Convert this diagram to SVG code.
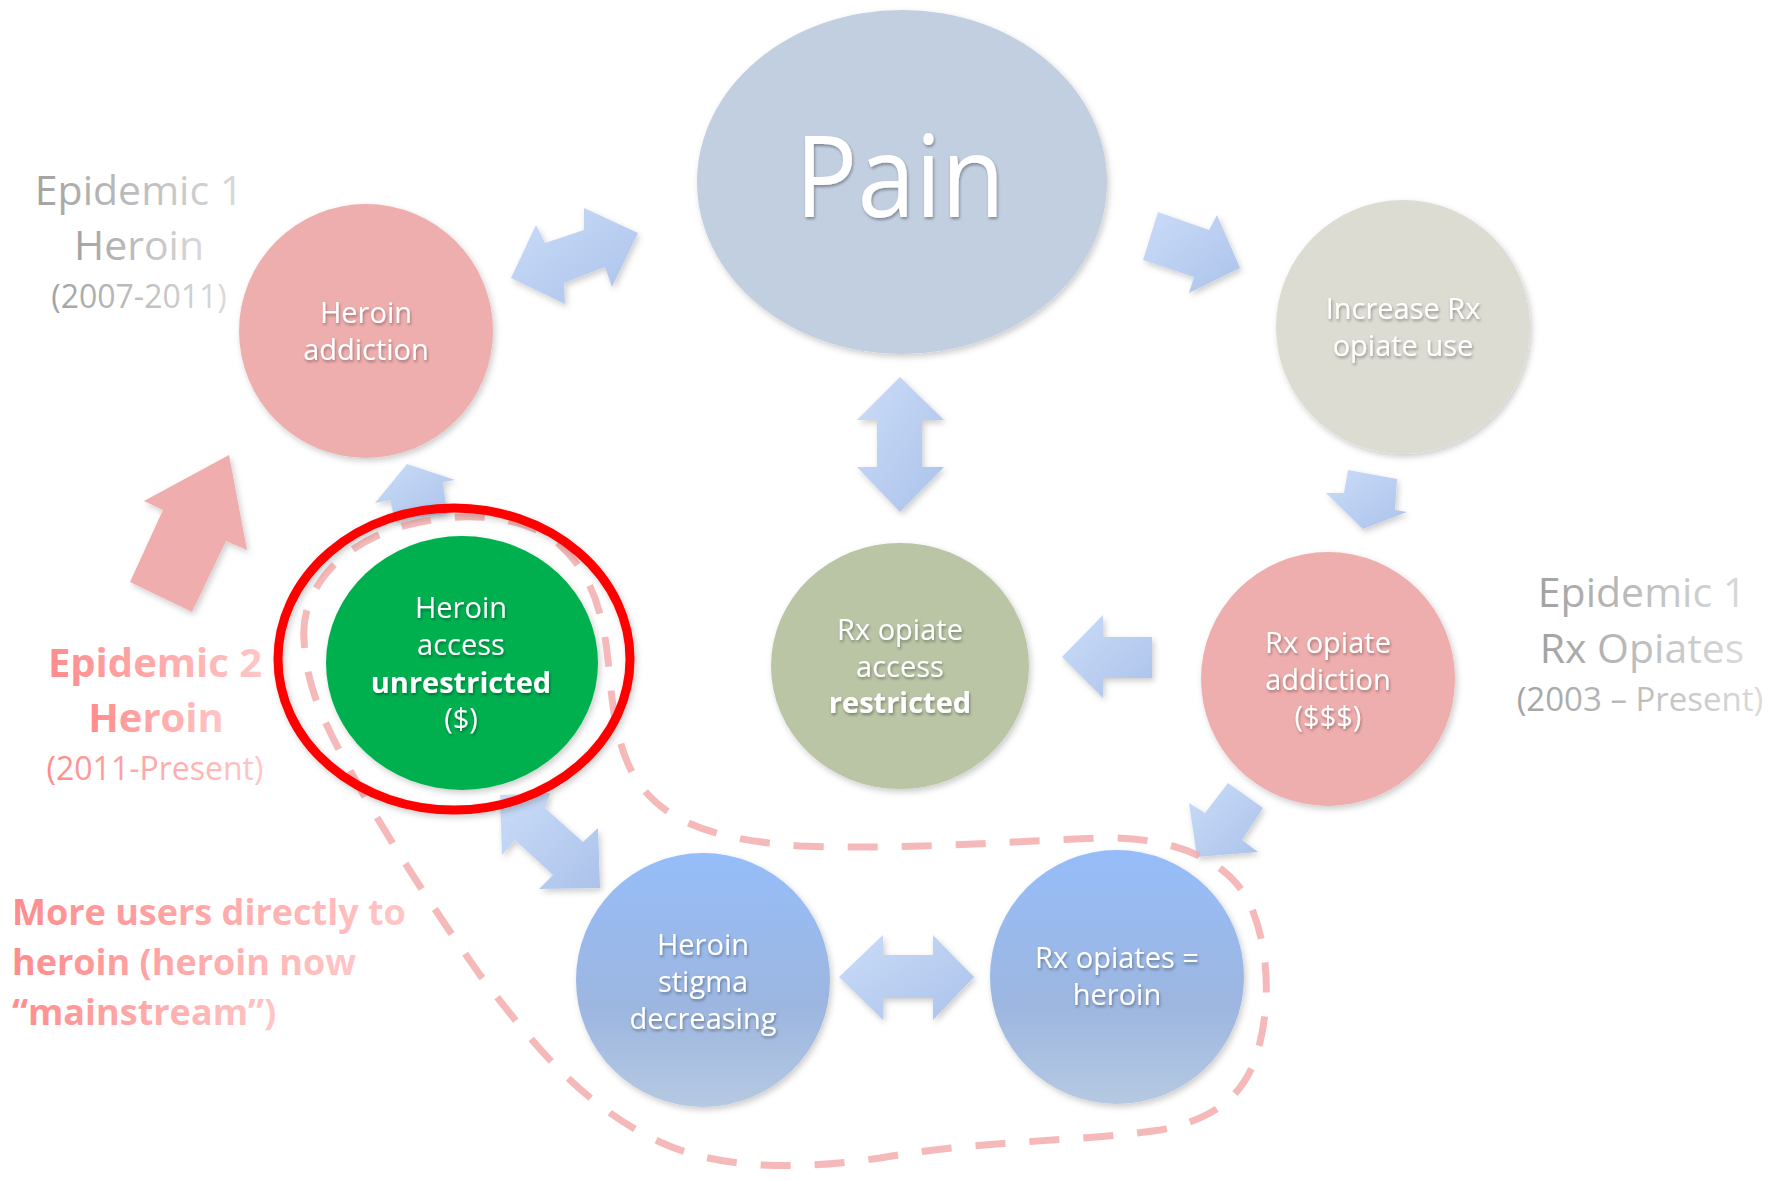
<svg xmlns="http://www.w3.org/2000/svg" width="1785" height="1181" viewBox="0 0 1785 1181">
<style>
.lbl{font-family:"Open Sans","Liberation Sans",sans-serif;font-size:29px;fill:#ffffff;text-anchor:middle;filter:url(#tsh)}
.b{font-weight:bold}
.gray{font-family:"Open Sans","Liberation Sans",sans-serif;fill:url(#grayGrad);text-anchor:middle}
.pink{font-family:"Open Sans","Liberation Sans",sans-serif;fill:url(#pinkGrad)}
.arrow{fill:url(#arrowGrad);filter:url(#sh)}
.node{filter:url(#sh)}
</style>
<defs>
<filter id="sh" x="-20%" y="-20%" width="140%" height="140%"><feDropShadow dx="2" dy="3" stdDeviation="3" flood-color="#000" flood-opacity="0.2"/></filter>
<filter id="tsh" x="-10%" y="-20%" width="120%" height="150%"><feDropShadow dx="1" dy="2" stdDeviation="1.5" flood-color="#000" flood-opacity="0.35"/></filter>
<linearGradient id="arrowGrad" x1="0" y1="0" x2="1" y2="1"><stop offset="0" stop-color="#cadcf8"/><stop offset="1" stop-color="#abc2ea"/></linearGradient>
<linearGradient id="blueGrad" x1="0" y1="0" x2="0" y2="1"><stop offset="0" stop-color="#96bdf9"/><stop offset="0.6" stop-color="#9cb6e0"/><stop offset="1" stop-color="#b6c9e2"/></linearGradient>
<linearGradient id="grayGrad" x1="0" y1="0" x2="1" y2="0"><stop offset="0" stop-color="#a2a2a2"/><stop offset="1" stop-color="#dadada"/></linearGradient>
<linearGradient id="pinkGrad" x1="0" y1="0" x2="1" y2="0"><stop offset="0" stop-color="#ff8c8c"/><stop offset="1" stop-color="#ffc6c6"/></linearGradient>
</defs>
<rect width="1785" height="1181" fill="#ffffff"/>

<g id="connectors">
<polygon class="arrow" points="511,278 536,225 545,243 584,230 584,208 638,233 612,287 605,267 564,283 565,304"/>
<polygon class="arrow" points="1158,212 1209,230 1217,215 1240,268 1189,293 1194,277 1143,260"/>
<polygon class="arrow" points="1348,470 1397,479 1395,510 1407,512 1363,529 1326,493 1344,493"/>
<polygon class="arrow" points="900,377 944,420 922,420 922,467 944,467 900,512 857,467 877,467 877,420 857,420"/>
<polygon class="arrow" points="1062,657 1103,615 1103,637 1152,637 1152,678 1103,678 1103,698"/>
<polygon class="arrow" points="1228,783 1263,808 1242,840 1258,852 1197,857 1189,803 1205,813"/>
<polygon class="arrow" points="839,977 883,935 883,955 933,955 933,935 974,977 933,1020 933,998 883,998 883,1020"/>
<polygon class="arrow" points="500,795 550,793 545,808 583,842 598,828 600,888 539,889 553,875 515,840 502,855"/>
<polygon class="arrow" points="407,464 455,480 443,482 447,514 395,520 390,500 375,503"/>
<polygon fill="#efadad" filter="url(#sh)" points="229,455 247,550 226,541 192,612 130,582 163,510 144,501"/>
</g>

<g id="node-pain" class="node">
<ellipse cx="902" cy="182" rx="205" ry="172" fill="#c2cfe0"/>
<text class="lbl" x="900" y="217" textLength="210" lengthAdjust="spacingAndGlyphs" style="font-size:114px">Pain</text>
</g>
<g id="node-heroin-addiction" class="node">
<circle cx="366" cy="331" r="127" fill="#efaeae"/>
<text class="lbl" x="366" y="323">Heroin</text>
<text class="lbl" x="366" y="360">addiction</text>
</g>
<g id="node-increase-rx" class="node">
<circle cx="1403" cy="327" r="127" fill="#dddcd3"/>
<text class="lbl" x="1403" y="319">Increase Rx</text>
<text class="lbl" x="1403" y="356">opiate use</text>
</g>
<g id="node-rx-addiction" class="node">
<circle cx="1328" cy="679" r="127" fill="#efaeae"/>
<text class="lbl" x="1328" y="653">Rx opiate</text>
<text class="lbl" x="1328" y="690">addiction</text>
<text class="lbl" x="1328" y="727">($$$)</text>
</g>
<g id="node-rx-access" class="node">
<ellipse cx="900" cy="666" rx="129" ry="123" fill="#bac5a6"/>
<text class="lbl" x="900" y="640">Rx opiate</text>
<text class="lbl" x="900" y="677">access</text>
<text class="lbl b" x="900" y="713">restricted</text>
</g>
<g id="node-heroin-access" class="node">
<ellipse cx="462" cy="663" rx="136" ry="127" fill="#00b050"/>
<text class="lbl" x="461" y="618">Heroin</text>
<text class="lbl" x="461" y="655">access</text>
<text class="lbl b" x="461" y="693">unrestricted</text>
<text class="lbl" x="461" y="729">($)</text>
</g>
<g id="node-stigma" class="node">
<circle cx="703" cy="980" r="127" fill="url(#blueGrad)"/>
<text class="lbl" x="703" y="955">Heroin</text>
<text class="lbl" x="703" y="992">stigma</text>
<text class="lbl" x="703" y="1029">decreasing</text>
</g>
<g id="node-rx-equals-heroin" class="node">
<circle cx="1117" cy="977" r="127" fill="url(#blueGrad)"/>
<text class="lbl" x="1117" y="968">Rx opiates =</text>
<text class="lbl" x="1117" y="1005">heroin</text>
</g>

<g id="epidemic2-boundary">
<path d="M304,640 C300,590 340,545 400,527 C450,512 520,510 560,545 C590,572 603,610 608,660 C612,700 615,750 640,785 C670,825 720,840 800,846 C900,850 1000,842 1100,838 C1170,836 1225,858 1248,900 C1270,945 1272,1010 1255,1060 C1240,1100 1210,1120 1160,1130 C1080,1142 980,1140 880,1158 C800,1170 720,1170 660,1142 C580,1105 530,1040 480,975 C420,890 350,780 320,710 C308,680 305,660 304,640 Z" fill="none" stroke="#f2a8a8" stroke-opacity="0.8" stroke-width="7" stroke-dasharray="30 24"/>
</g>
<g id="highlight">
<ellipse cx="454" cy="659" rx="176" ry="151" fill="none" stroke="#ff0000" stroke-width="9" filter="url(#sh)"/>
</g>

<g id="label-epidemic1-heroin">
<text class="gray" x="139" y="205" font-size="41">Epidemic 1</text>
<text class="gray" x="139" y="260" font-size="41">Heroin</text>
<text class="gray" x="139" y="308" font-size="32">(2007-2011)</text>
</g>
<g id="label-epidemic1-rx">
<text class="gray" x="1642" y="607" font-size="41">Epidemic 1</text>
<text class="gray" x="1642" y="663" font-size="41">Rx Opiates</text>
<text class="gray" x="1640" y="711" font-size="33">(2003 – Present)</text>
</g>
<g id="label-epidemic2">
<text class="pink b" x="155" y="677" font-size="40" text-anchor="middle">Epidemic 2</text>
<text class="pink b" x="156" y="732" font-size="40" text-anchor="middle">Heroin</text>
<text class="pink" x="155" y="780" font-size="32" text-anchor="middle">(2011-Present)</text>
</g>
<g id="label-more-users">
<text class="pink b" x="12" y="925" font-size="36">More users directly to</text>
<text class="pink b" x="12" y="975" font-size="36">heroin (heroin now</text>
<text class="pink b" x="12" y="1025" font-size="36">“mainstream”)</text>
</g>
</svg>
